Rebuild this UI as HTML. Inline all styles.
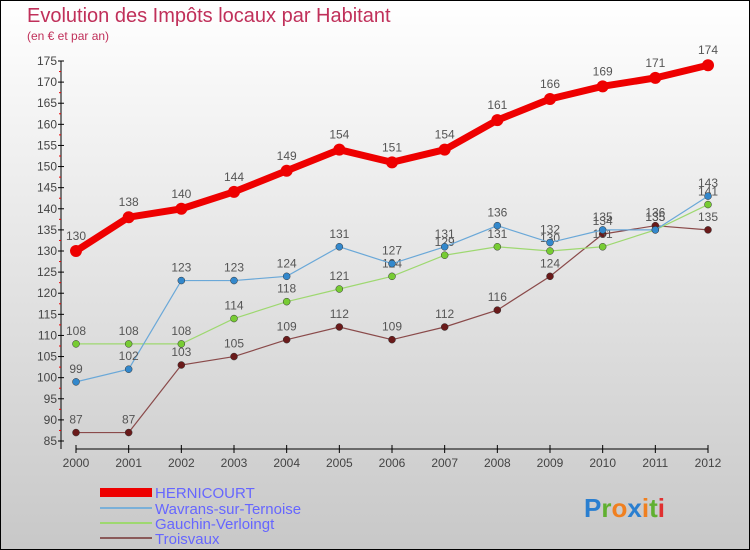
<!DOCTYPE html>
<html><head><meta charset="utf-8"><style>
body{margin:0}
#c{width:748px;height:548px;border:1px solid #000;background:linear-gradient(#fff,#c8c8c8);position:relative;font-family:"Liberation Sans",sans-serif;overflow:hidden}
</style></head><body>
<div id="c">
<svg id="s" width="748" height="548" xmlns="http://www.w3.org/2000/svg">
<text x="26" y="21" font-size="20" fill="#c0305a">Evolution des Impôts locaux par Habitant</text>
<text x="26" y="39" font-size="12" fill="#c0305a">(en € et par an)</text>
<g id="ax"></g><g id="ser"></g>
<g>
<rect x="99" y="487" width="52" height="9" fill="#e00"/>
<text x="154" y="497" font-size="15" fill="#66f">HERNICOURT</text>
<rect x="99" y="506" width="52" height="2" fill="#7ab0d8"/>
<text x="154" y="513" font-size="15" fill="#66f">Wavrans-sur-Ternoise</text>
<rect x="99" y="521" width="52" height="2" fill="#9ed870"/>
<text x="154" y="528" font-size="15" fill="#66f">Gauchin-Verloingt</text>
<rect x="99" y="536" width="52" height="2" fill="#8a5a5a"/>
<text x="154" y="543" font-size="15" fill="#66f">Troisvaux</text>
</g>
<text x="583" y="516" font-size="26" font-weight="bold"><tspan fill="#2a7fd0">P</tspan><tspan fill="#60b030">r</tspan><tspan fill="#f08020">o</tspan><tspan fill="#2a7fd0">x</tspan><tspan fill="#f08020">i</tspan><tspan fill="#60b030">t</tspan><tspan fill="#e03030">i</tspan></text>
</svg></div>
<script>
const years=[2000,2001,2002,2003,2004,2005,2006,2007,2008,2009,2010,2011,2012];
const hernicourt=[130,138,140,144,149,154,151,154,161,166,169,171,174];
const wavrans=[99,102,123,123,124,131,127,131,136,132,135,135,143];
const gauchin=[108,108,108,114,118,121,124,129,131,130,131,135,141];
const troisvaux=[87,87,103,105,109,112,109,112,116,124,134,136,135];
const yTicks=[85,90,95,100,105,110,115,120,125,130,135,140,145,150,155,160,165,170,175];
const NS="http://www.w3.org/2000/svg";
const X=i=>75+i*(632/12), Y=v=>440-(v-85)*(380/90);
function mk(t,a,p){const e=document.createElementNS(NS,t);for(const k in a)e.setAttribute(k,a[k]);p.appendChild(e);return e;}
const ax=document.getElementById('ax');
let e=mk('line',{x1:60,y1:60,x2:60,y2:448,stroke:'#000'},ax);

e=mk('line',{x1:75,y1:448,x2:707,y2:448,stroke:'#000'},ax);

yTicks.forEach((v,i)=>{mk('line',{x1:57,y1:Y(v),x2:63,y2:Y(v),stroke:'#000'},ax);
 if(i<yTicks.length-1)mk('line',{x1:58,y1:Y(v+2.5),x2:60,y2:Y(v+2.5),stroke:'#e00'},ax);
 const t=mk('text',{x:56,y:Y(v)+4,'font-size':12,fill:'#444','text-anchor':'end'},ax);t.textContent=v;
 });
years.forEach((y,i)=>{mk('line',{x1:X(i),y1:444,x2:X(i),y2:452,stroke:'#000'},ax);
 const t=mk('text',{x:X(i),y:466,'font-size':12,fill:'#444','text-anchor':'middle'},ax);t.textContent=y;
 });
const ser=document.getElementById('ser');
function draw(d,name,col,w,r,dot){const g=mk('g',{},ser);
 const p=mk('polyline',{points:d.map((v,i)=>X(i)+','+Y(v)).join(' '),fill:'none',stroke:col,'stroke-width':w},g);
 
 d.forEach((v,i)=>{const c=mk('circle',{cx:X(i),cy:Y(v),r:r,fill:dot,stroke:r>4?'none':'#333','stroke-width':0.5},g);
  
  const t=mk('text',{x:X(i),y:Y(v)-(r>4?11:9),'font-size':12,fill:'#555','text-anchor':'middle'},g);t.textContent=v;
  });}
draw(troisvaux,'troisvaux','#8a4a4a',1.2,3.5,'#6a1a1a');
draw(gauchin,'gauchin','#9ed870',1.2,3.5,'#77cc33');
draw(wavrans,'wavrans','#6aa8d8',1.2,3.5,'#3388cc');
draw(hernicourt,'hernicourt','#ee0000',7,6,'#ee0000');
</script></body></html>
